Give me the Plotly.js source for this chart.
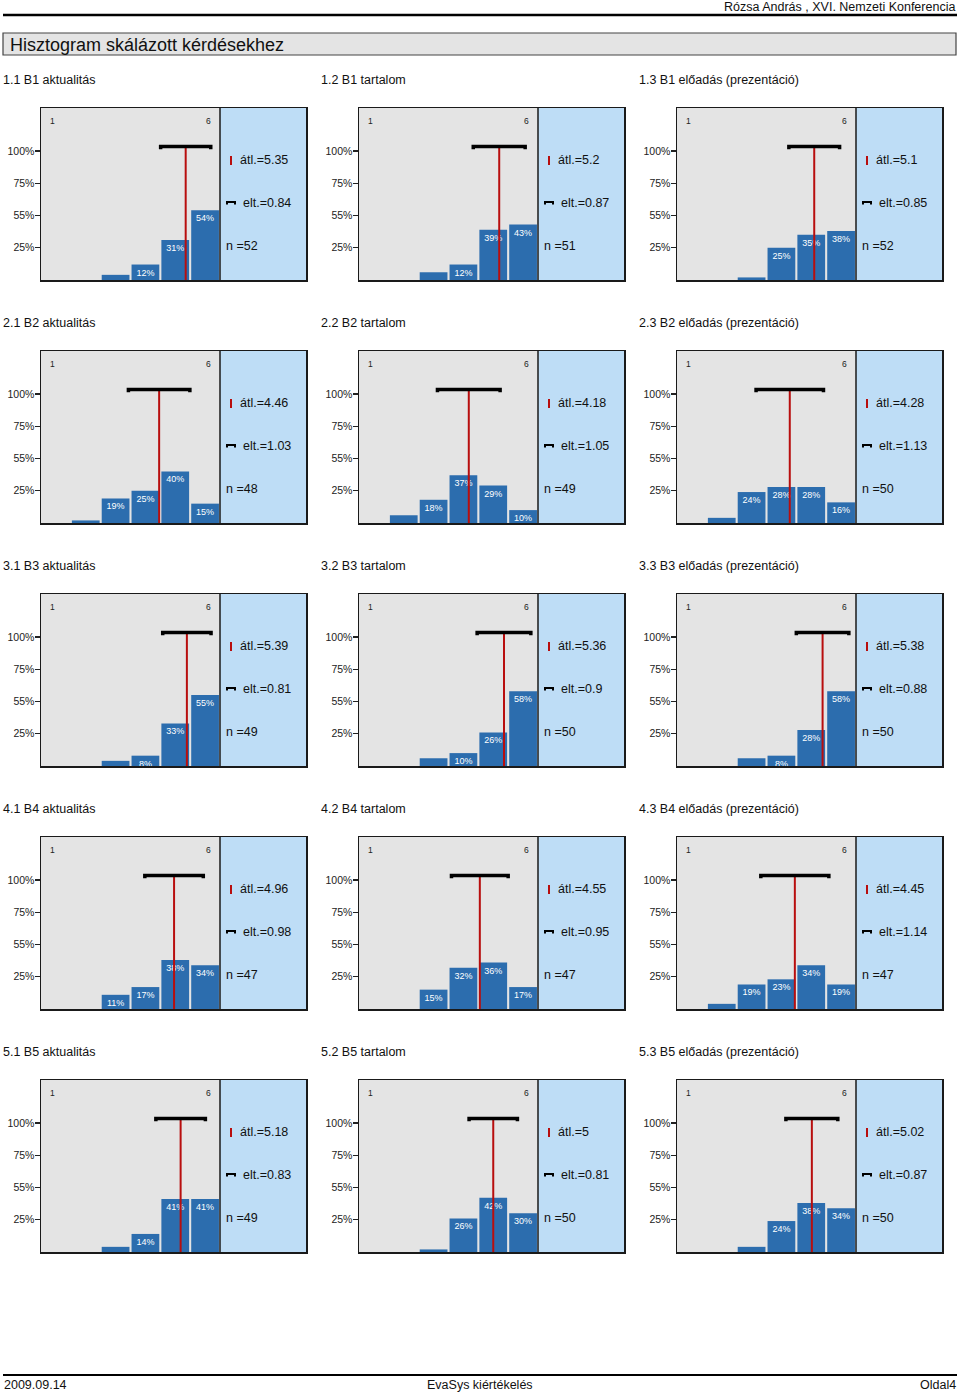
<!DOCTYPE html>
<html><head><meta charset="utf-8">
<script src="https://cdn.plot.ly/plotly-3.0.1.min.js"></script>
<style>html,body{margin:0;padding:0;background:#fff}#chart{width:960px;height:1395px}</style>
</head><body><div id="chart"></div>
<script>
// ---------- data ----------
const questions = [
  "1.1 B1 aktualitás", "1.2 B1 tartalom", "1.3 B1 előadás (prezentáció)",
  "2.1 B2 aktualitás", "2.2 B2 tartalom", "2.3 B2 előadás (prezentáció)",
  "3.1 B3 aktualitás", "3.2 B3 tartalom", "3.3 B3 előadás (prezentáció)",
  "4.1 B4 aktualitás", "4.2 B4 tartalom", "4.3 B4 előadás (prezentáció)",
  "5.1 B5 aktualitás", "5.2 B5 tartalom", "5.3 B5 előadás (prezentáció)"
];
const categories = [1, 2, 3, 4, 5, 6];
const scaleEndLabels = ["1", "6"];
const yTickVals = [25, 50, 75, 100];
const yTickText = ["25%", "55%", "75%", "100%"];
const percentages = [
  [0, 0, 4, 12, 31, 54],
  [0, 0, 6, 12, 39, 43],
  [0, 0, 2, 25, 35, 38],
  [0, 2, 19, 25, 40, 15],
  [0, 6, 18, 37, 29, 10],
  [0, 4, 24, 28, 28, 16],
  [0, 0, 4, 8, 33, 55],
  [0, 0, 6, 10, 26, 58],
  [0, 0, 6, 8, 28, 58],
  [0, 0, 11, 17, 38, 34],
  [0, 0, 15, 32, 36, 17],
  [0, 4, 19, 23, 34, 19],
  [0, 0, 4, 14, 41, 41],
  [0, 0, 2, 26, 42, 30],
  [0, 0, 4, 24, 38, 34]
];
const means = [5.35, 5.2, 5.1, 4.46, 4.18, 4.28, 5.39, 5.36, 5.38, 4.96, 4.55, 4.45, 5.18, 5, 5.02];
const sds   = [0.84, 0.87, 0.85, 1.03, 1.05, 1.13, 0.81, 0.9, 0.88, 0.98, 0.95, 1.14, 0.83, 0.81, 0.87];
const ns    = [52, 51, 52, 48, 49, 50, 49, 50, 50, 47, 47, 47, 49, 50, 50];
const headerText = "Rózsa András , XVI. Nemzeti Konferencia";
const pageTitle = "Hisztogram skálázott kérdésekhez";
const footerLeft = "2009.09.14", footerCenter = "EvaSys kiértékelés", footerRight = "Oldal4";

// ---------- layout helpers ----------
const W = 960, H = 1395;
const FONT = '"Liberation Sans", Arial, Helvetica, sans-serif';
const colX = [41, 359, 677], rowY = [108, 351, 594, 837, 1080];
const panelW = 265, grayW = 179, panelH = 172;
const unit = grayW / 6, xMax = 0.5 + panelW / unit;
const pxPerPct = 1.29, yMax = panelH / pxPerPct;
const bracketY = 103.5, capY = 101.3;
const px = x => x / W, py = y => 1 - y / H;

const data = [], shapes = [], annotations = [];
const layout = {
  width: W, height: H,
  margin: {l: 0, r: 0, t: 0, b: 0},
  paper_bgcolor: '#ffffff', plot_bgcolor: '#E4E4E4',
  showlegend: false,
  font: {family: FONT, color: '#111'},
  bargap: 0.1
};

questions.forEach((q, i) => {
  const r = Math.floor(i / 3), c = i % 3, k = i === 0 ? '' : String(i + 1);
  const X = colX[c], Y = rowY[r];
  const xa = 'x' + k, ya = 'y' + k;
  layout['xaxis' + k] = {
    domain: [px(X), px(X + panelW)], range: [0.5, xMax], anchor: ya,
    showgrid: false, zeroline: false, showticklabels: false, ticks: '',
    showline: true, mirror: true, linecolor: '#1a1a1a', linewidth: 1.5, fixedrange: true
  };
  layout['yaxis' + k] = {
    domain: [py(Y + panelH), py(Y)], range: [0, yMax], anchor: xa,
    showgrid: false, zeroline: false,
    tickmode: 'array', tickvals: yTickVals, ticktext: yTickText,
    ticks: 'outside', ticklen: 5, tickwidth: 1.2, tickcolor: '#222',
    ticklabelstandoff: -2,
    tickfont: {family: FONT, size: 10.5, color: '#222'},
    showline: true, mirror: true, linecolor: '#1a1a1a', linewidth: 1.5, fixedrange: true
  };
  const vals = percentages[i];
  data.push({
    type: 'bar', x: categories, y: vals, xaxis: xa, yaxis: ya, width: 0.93,
    marker: {color: '#2C6DAE', line: {width: 0}},
    text: vals.map(v => v >= 8 ? v + '%' : ''),
    textposition: 'inside', insidetextanchor: 'end', constraintext: 'none',
    textfont: {family: FONT, size: 9, color: '#ffffff'},
    hoverinfo: 'skip'
  });
  const m = means[i], s = sds[i];
  data.push({
    type: 'scatter', mode: 'lines', x: [m, m], y: [0, bracketY], xaxis: xa, yaxis: ya,
    line: {color: '#B80E0E', width: 2}, hoverinfo: 'skip'
  });
  data.push({
    type: 'scatter', mode: 'lines', x: [m - s, m - s, m + s, m + s], y: [capY, bracketY, bracketY, capY],
    xaxis: xa, yaxis: ya, line: {color: '#000', width: 3.5}, hoverinfo: 'skip'
  });
  // info box
  shapes.push({type: 'rect', xref: xa, yref: ya, x0: 6.5, x1: xMax, y0: 0, y1: yMax,
    fillcolor: '#BEDDF6', line: {width: 0}, layer: 'below'});
  shapes.push({type: 'line', xref: xa, yref: ya, x0: 6.5, x1: 6.5, y0: 0, y1: yMax,
    line: {color: '#1a1a1a', width: 1.5}});
  // section title
  annotations.push({xref: 'paper', yref: 'paper', x: px(X - 40), y: py(Y - 28), xanchor: 'left', yanchor: 'middle',
    text: q, showarrow: false, font: {family: FONT, size: 12.5, color: '#111'}});
  // scale end labels
  [categories[0], categories[categories.length - 1]].forEach((cv, j) => {
    annotations.push({xref: xa, yref: ya, x: cv, y: yMax - 13 / pxPerPct, xshift: j === 0 ? -3 : 3,
      xanchor: 'center', yanchor: 'middle', text: scaleEndLabels[j], showarrow: false,
      font: {family: FONT, size: 8.5, color: '#222'}});
  });
  // info texts
  annotations.push({xref: 'paper', yref: 'paper', x: px(X + 196.5), y: py(Y + 52), xanchor: 'left', yanchor: 'middle',
    text: 'átl.=' + m, showarrow: false, font: {family: FONT, size: 12.5, color: '#111'}});
  annotations.push({xref: 'paper', yref: 'paper', x: px(X + 199.5), y: py(Y + 95), xanchor: 'left', yanchor: 'middle',
    text: 'elt.=' + s, showarrow: false, font: {family: FONT, size: 12.5, color: '#111'}});
  annotations.push({xref: 'paper', yref: 'paper', x: px(X + 183), y: py(Y + 138), xanchor: 'left', yanchor: 'middle',
    text: 'n =' + ns[i], showarrow: false, font: {family: FONT, size: 12.5, color: '#111'}});
  // legend symbols
  shapes.push({type: 'line', xref: 'paper', yref: 'paper', x0: px(X + 190), x1: px(X + 190), y0: py(Y + 48), y1: py(Y + 57),
    line: {color: '#B80E0E', width: 2}});
  shapes.push({type: 'path', xref: 'paper', yref: 'paper',
    path: `M ${px(X + 186)},${py(Y + 96.5)} L ${px(X + 186)},${py(Y + 94)} L ${px(X + 194)},${py(Y + 94)} L ${px(X + 194)},${py(Y + 96.5)}`,
    line: {color: '#000', width: 2}});
});

// header / title / footer
annotations.push({xref: 'paper', yref: 'paper', x: px(957), y: py(6.5), xanchor: 'right', yanchor: 'middle',
  text: headerText, showarrow: false, font: {family: FONT, size: 12.5, color: '#111'}});
shapes.push({type: 'line', xref: 'paper', yref: 'paper', x0: px(3), x1: px(957), y0: py(15), y1: py(15),
  line: {color: '#000', width: 2.5}});
shapes.push({type: 'rect', xref: 'paper', yref: 'paper', x0: px(3), x1: px(956), y0: py(55), y1: py(33),
  fillcolor: '#E4E4E4', line: {color: '#444', width: 1.2}});
annotations.push({xref: 'paper', yref: 'paper', x: px(8), y: py(44.5), xanchor: 'left', yanchor: 'middle',
  text: pageTitle, showarrow: false, font: {family: FONT, size: 18, color: '#111'}});
shapes.push({type: 'line', xref: 'paper', yref: 'paper', x0: px(3), x1: px(957), y0: py(1375), y1: py(1375),
  line: {color: '#000', width: 2}});
const footFont = {family: FONT, size: 12.5, color: '#111'};
annotations.push({xref: 'paper', yref: 'paper', x: px(2), y: py(1385), xanchor: 'left', yanchor: 'middle',
  text: footerLeft, showarrow: false, font: footFont});
annotations.push({xref: 'paper', yref: 'paper', x: px(480), y: py(1385), xanchor: 'center', yanchor: 'middle',
  text: footerCenter, showarrow: false, font: footFont});
annotations.push({xref: 'paper', yref: 'paper', x: px(958), y: py(1385), xanchor: 'right', yanchor: 'middle',
  text: footerRight, showarrow: false, font: footFont});

layout.shapes = shapes;
layout.annotations = annotations;
Plotly.newPlot('chart', data, layout, {staticPlot: true, displayModeBar: false});
</script>
</body></html>
